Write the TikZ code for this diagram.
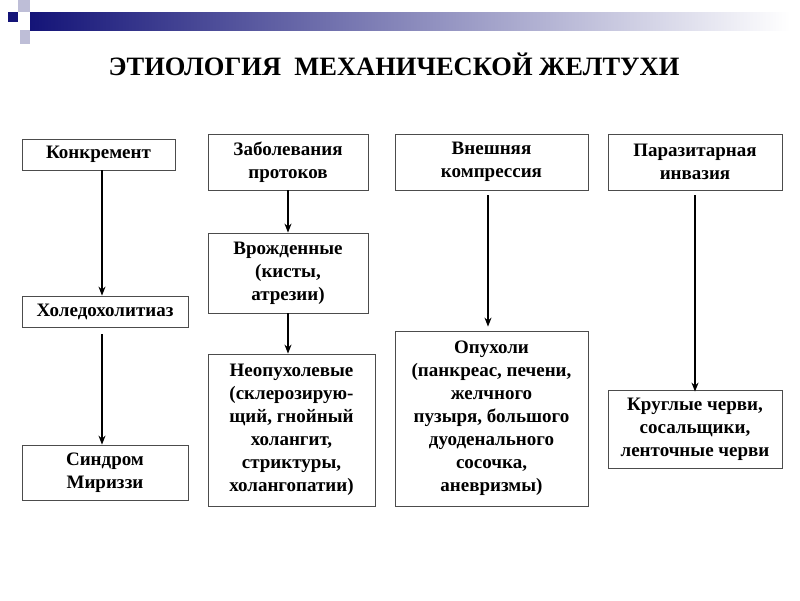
\documentclass[tikz,border=0pt]{standalone}
\usepackage{fontspec}
\setmainfont{Liberation Serif}
\usetikzlibrary{arrows.meta,shadings}
\definecolor{barnavy}{RGB}{20,20,120}
\definecolor{sqgray}{RGB}{190,190,215}
\begin{document}
\begin{tikzpicture}[x=1pt,y=-1pt,
  box/.style={draw=black!70,line width=0.8pt,align=center,inner sep=0,font=\bfseries\fontsize{19pt}{23pt}\selectfont},
  arr/.style={line width=1.3pt,-{Stealth[length=9pt,width=7pt]}}]
\useasboundingbox (0,0) rectangle (800,600);
% header bar
\shade[left color=barnavy,right color=white] (30,12) rectangle (790,30);
\fill[barnavy] (8,12) rectangle (18,22);
\fill[sqgray] (18,0) rectangle (30,12);
\fill[sqgray] (20,30) rectangle (30,44);
\node[font=\bfseries\fontsize{26.5pt}{30pt}\selectfont] (title) at (394,64) {ЭТИОЛОГИЯ\ \ МЕХАНИЧЕСКОЙ ЖЕЛТУХИ};
% column 1
\node[box,minimum width=153pt,minimum height=31pt] (konk) at (98.5,154.5) {Конкремент};
\node[box,minimum width=166pt,minimum height=31pt] (holed) at (105,311.5) {Холедохолитиаз};
\node[box,minimum width=166pt,minimum height=55pt] (mir) at (105,472.5) {Синдром\\Мириззи};
% column 2
\node[box,minimum width=160pt,minimum height=56pt] (zab) at (288,162) {Заболевания\\протоков};
\node[box,minimum width=160pt,minimum height=80pt] (vrozh) at (288,273) {Врожденные\\(кисты,\\атрезии)};
\node[box,minimum width=167pt,minimum height=152pt] (neop) at (291.5,430) {Неопухолевые\\(склерозирую-\\щий, гнойный\\холангит,\\стриктуры,\\холангопатии)};
% column 3
\node[box,minimum width=193pt,minimum height=56pt] (vnesh) at (491.5,162) {Внешняя\\компрессия};
\node[box,minimum width=193pt,minimum height=175pt] (opuh) at (491.5,418.5) {Опухоли\\(панкреас, печени,\\желчного\\пузыря, большого\\дуоденального\\сосочка,\\аневризмы)};
% column 4
\node[box,minimum width=174pt,minimum height=56pt] (paraz) at (695,162) {Паразитарная\\инвазия};
\node[box,minimum width=174pt,minimum height=78pt] (cherv) at (695,429) {Круглые черви,\\сосальщики,\\ленточные черви};
% arrows
\draw[arr] (konk.south -| 102,0) -- (holed.north -| 102,0);
\draw[arr,shorten <=7pt] (holed.south -| 102,0) -- (mir.north -| 102,0);
\draw[arr] (zab) -- (vrozh);
\draw[arr] (vrozh.south) -- (vrozh.south |- neop.north);
\draw[arr,shorten <=5pt] (vnesh.south -| 488,0) -- ([yshift=4pt]opuh.north -| 488,0);
\draw[arr,shorten <=5pt] (paraz.south) -- ([yshift=-2pt]cherv.north);
\end{tikzpicture}
\end{document}
